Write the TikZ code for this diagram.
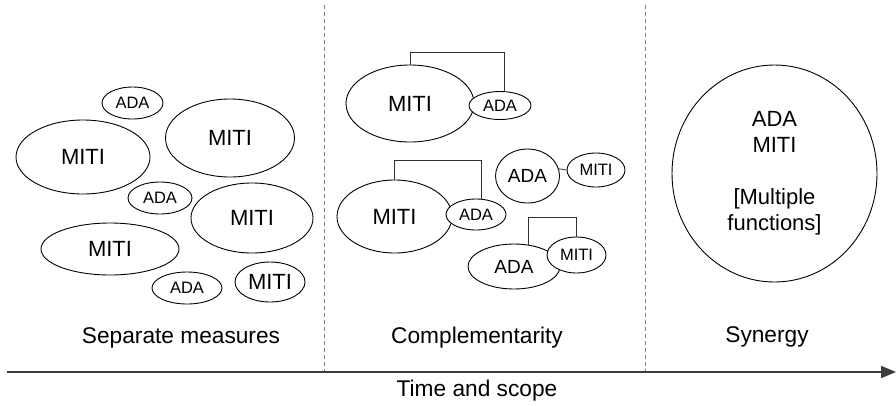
\documentclass[tikz,border=0pt]{standalone}
\usepackage{fontspec}
\setmainfont{Liberation Sans}
\usetikzlibrary{shapes.geometric,arrows.meta}
\definecolor{axisgray}{HTML}{3C3C3C}
\definecolor{dashgray}{HTML}{808080}
\definecolor{linkgray}{HTML}{303030}
\tikzset{
  el/.style={ellipse, draw=black, line width=0.9pt, fill=white, inner sep=0pt},
  bigtxt/.style={font=\fontsize{22}{26}\selectfont},
  medtxt/.style={font=\fontsize{19}{23}\selectfont},
  smltxt/.style={font=\fontsize{16.5}{20}\selectfont},
  lbl/.style={font=\fontsize{22.7}{27}\selectfont, inner sep=0pt},
  divider/.style={draw=dashgray, line width=0.7pt, dash pattern=on 4pt off 3pt},
  link/.style={draw=linkgray, line width=0.8pt},
  axis/.style={draw=axisgray, line width=2pt, -{Triangle[length=15pt,width=12pt]}}
}
\begin{document}
\begin{tikzpicture}[x=1pt,y=-1pt]
\useasboundingbox (0,0) rectangle (896,405);

% dividers
\coordinate (d1t) at (324,5);
\coordinate (d1b) at (324,372);
\coordinate (d2t) at (645,5);
\coordinate (d2b) at (645,372);
\draw[divider] (d1t) -- (d1b);
\draw[divider] (d2t) -- (d2b);

% axis
\coordinate (axs) at (7,372);
\coordinate (axe) at (896,372);
\draw[axis] (axs) -- (axe);

% left panel: separate measures
\node[el, smltxt, minimum width=61pt, minimum height=32pt] (ada1) at (132.5,103) {ADA};
\node[el, bigtxt, minimum width=134pt, minimum height=74pt] (miti1) at (83,157) {MITI};
\node[el, bigtxt, minimum width=129pt, minimum height=78pt] (miti2) at (230,138) {MITI};
\node[el, smltxt, minimum width=64pt, minimum height=32pt] (ada2) at (160,198) {ADA};
\node[el, bigtxt, minimum width=122pt, minimum height=70pt] (miti3) at (252,218) {MITI};
\node[el, bigtxt, minimum width=138pt, minimum height=52pt] (miti4) at (110,249) {MITI};
\node[el, smltxt, minimum width=70pt, minimum height=32pt] (ada3) at (187,288) {ADA};
\node[el, bigtxt, minimum width=70pt, minimum height=40pt] (miti5) at (270,282) {MITI};

% middle panel: complementarity
\node[el, bigtxt, minimum width=128pt, minimum height=77pt] (cmiti1) at (410,103.5) {MITI};
\node[el, smltxt, minimum width=62pt, minimum height=28pt] (cada1) at (500,105.5) {ADA};
\draw[link] (cmiti1.north) -- (cmiti1.north |- 0,52) -| (cada1.74);

\node[el, medtxt, minimum width=64pt, minimum height=54pt] (cada2) at (527.5,176) {ADA};
\node[el, smltxt, minimum width=58pt, minimum height=34pt] (cmiti2) at (596,170) {MITI};
\draw[link] (cmiti2.west) -- (cada2.13);

\node[el, bigtxt, minimum width=115pt, minimum height=73pt] (cmiti3) at (394.5,216.5) {MITI};
\node[el, smltxt, minimum width=60pt, minimum height=31pt] (cada3) at (476,214.5) {ADA};
\draw[link] (cmiti3.north) -- (cmiti3.north |- 0,160) -| (cada3.72);

\node[el, medtxt, minimum width=92pt, minimum height=45pt] (cada4) at (514,266.5) {ADA};
\node[el, smltxt, minimum width=59pt, minimum height=36pt] (cmiti4) at (576.5,255) {MITI};
\draw[link] (cada4.57) -- (cada4.57 |- 0,217) -| (cmiti4.north);

% right panel: synergy
\node[el, bigtxt, align=center, minimum width=205pt, minimum height=217pt] (syn) at (774.5,173.5)
  {ADA\\MITI\\ \strut\\{[}Multiple\\functions]};

% labels
\node[lbl] (lsep) at (181,338) {Separate measures};
\node[lbl] (lcomp) at (477,338) {Complementarity};
\node[lbl] (lsyn) at (767,337) {Synergy};
\node[lbl] (ltime) at (477,391) {Time and scope};
\end{tikzpicture}
\end{document}
